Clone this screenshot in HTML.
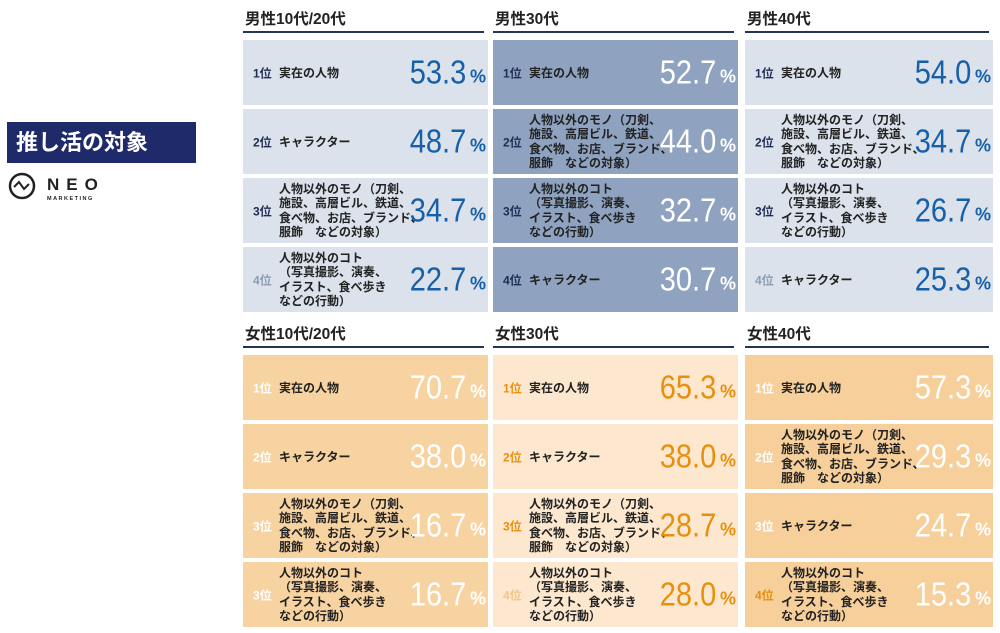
<!DOCTYPE html>
<html><head><meta charset="utf-8">
<style>
body{margin:0;width:1000px;height:633px;background:#fff;position:relative;overflow:hidden;font-family:"Liberation Sans","Noto Sans CJK JP",sans-serif;}
.title{position:absolute;left:7px;top:122px;width:189px;height:41px;background:#1f2a6b;color:#fff;font-size:22px;font-weight:bold;line-height:41px;padding-left:9px;box-sizing:border-box;}
.logo{position:absolute;left:7px;top:172px;}
.hdr{position:absolute;font-size:15.5px;font-weight:bold;color:#222;}
.line{position:absolute;height:2px;background:#233556;}
.card{position:absolute;box-sizing:border-box;}
.rank{position:absolute;left:10px;font-size:12px;font-weight:bold;top:50%;transform:translateY(-50%);}
.lbl{position:absolute;left:36px;font-size:12px;font-weight:bold;line-height:14.5px;color:#222;top:50%;transform:translateY(-50%);white-space:nowrap;}
.num{position:absolute;right:22px;font-size:33px;top:50%;transform:translateY(-52%) scaleX(0.88);transform-origin:right center;line-height:34px;}
.pct{position:absolute;right:2px;font-size:18px;font-weight:bold;top:50%;transform:translateY(-30%);}
</style></head><body>
<div class="title">推し活の対象</div>
<div class="logo">
<svg width="120" height="34"><circle cx="15" cy="14" r="12" fill="none" stroke="#222" stroke-width="2.5"/><path d="M7 15 L12 10 L17 17 L22 12" fill="none" stroke="#222" stroke-width="2"/>
<text x="40" y="18" font-family="Liberation Sans" font-weight="bold" font-size="17" letter-spacing="7" fill="#222">NEO</text>
<text x="40" y="28" font-family="Liberation Sans" font-weight="bold" font-size="5.5" letter-spacing="1.5" fill="#222">MARKETING</text></svg></div>
<div id="root"></div>
<script>
const groups=["男性10代/20代","男性30代","男性40代","女性10代/20代","女性30代","女性40代"];
const ranks=[["1位","2位","3位","4位"],["1位","2位","3位","4位"],["1位","2位","3位","4位"],["1位","2位","3位","3位"],["1位","2位","3位","4位"],["1位","2位","3位","4位"]];
const MONO="人物以外のモノ（刀剣、<br>施設、高層ビル、鉄道、<br>食べ物、お店、ブランド、<br>服飾　などの対象）";
const KOTO="人物以外のコト<br>（写真撮影、演奏、<br>イラスト、食べ歩き<br>などの行動）";
const labels=[["実在の人物","キャラクター",MONO,KOTO],["実在の人物",MONO,KOTO,"キャラクター"],["実在の人物",MONO,KOTO,"キャラクター"],["実在の人物","キャラクター",MONO,KOTO],["実在の人物","キャラクター",MONO,KOTO],["実在の人物",MONO,"キャラクター",KOTO]];
const values=[[53.3,48.7,34.7,22.7],[52.7,44.0,32.7,30.7],[54.0,34.7,26.7,25.3],[70.7,38.0,16.7,16.7],[65.3,38.0,28.7,28.0],[57.3,29.3,24.7,15.3]];
const colX=[243,493,745], colW=[245,245,248];
const rowsTop=[40,355], hdrTop=[7,322], cardH=65, gap=3;
const styles=[
 {bg:"#dbe2eb",num:"#1560a8",rank:["#1e2d55","#1e2d55","#1e2d55","#8d9bb5"],w:"normal"},
 {bg:"#8fa3c1",num:"#fff",rank:["#1e2d55","#1e2d55","#1e2d55","#1e2d55"],w:"normal"},
 {bg:"#dbe2eb",num:"#1560a8",rank:["#1e2d55","#1e2d55","#1e2d55","#8d9bb5"],w:"normal"},
 {bg:"#f8d3a2",num:"#fff",rank:["#fff","#fff","#fff","#fff"],w:"300"},
 {bg:"#fde8cf",num:"#e8900e",rank:["#e8900e","#e8900e","#e8900e","#f3c48a"],w:"300"},
 {bg:"#f6cf9b",num:"#fff",rank:["#fff","#fff","#fff","#e8900e"],w:"300"}];
const root=document.getElementById('root');
groups.forEach((g,gi)=>{
 const c=gi%3, r=Math.floor(gi/3), st=styles[gi];
 const h=document.createElement('div');h.className='hdr';h.textContent=g;
 h.style.left=(colX[c]+2)+'px';h.style.top=hdrTop[r]+'px';
 
 
 root.appendChild(h);
 const l=document.createElement('div');l.className='line';
 l.style.left=colX[c]+'px';l.style.width=(colW[c]-4)+'px';l.style.top=(hdrTop[r]+24)+'px';
 
 
 root.appendChild(l);
 values[gi].forEach((v,i)=>{
  const d=document.createElement('div');d.className='card';
  d.style.left=colX[c]+'px';d.style.width=colW[c]+'px';
  d.style.top=(rowsTop[r]+i*(cardH+gap+1))+'px';d.style.height=cardH+'px';d.style.background=st.bg;
  
  
  d.innerHTML='<span class="rank" style="color:'+st.rank[i]+'">'+ranks[gi][i]+'</span><span class="lbl">'+labels[gi][i]+'</span><span class="num" style="color:'+st.num+';font-weight:'+st.w+'">'+v.toFixed(1)+'</span><span class="pct" style="color:'+st.num+'">%</span>';
  root.appendChild(d);
 });
});
</script>
</body></html>
